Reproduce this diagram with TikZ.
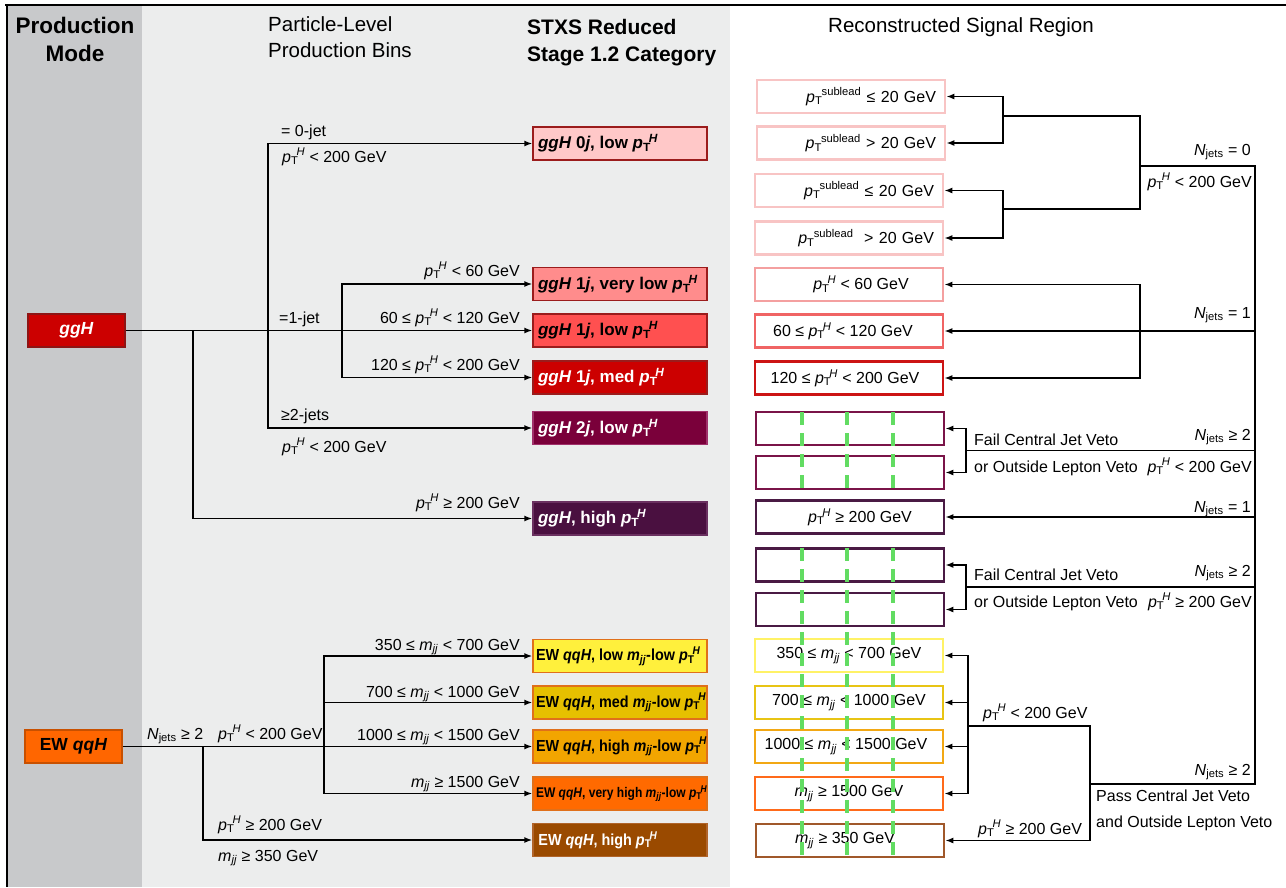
\documentclass[tikz,border=0pt]{standalone}
\usepackage{fontspec}
\setmainfont{Liberation Sans}
\usepackage{graphicx}
\usetikzlibrary{arrows.meta}
\definecolor{panelDark}{HTML}{C8C9CB}
\definecolor{panelLight}{HTML}{ECEDED}
\definecolor{ggHfill}{HTML}{CC0000}
\definecolor{ggHdraw}{HTML}{8E1414}
\definecolor{qqHfill}{HTML}{FF6600}
\definecolor{qqHdraw}{HTML}{C85000}
\definecolor{sA}{HTML}{FFC8C8}
\definecolor{sB}{HTML}{FF8C8C}
\definecolor{sC}{HTML}{FF5050}
\definecolor{sD}{HTML}{CC0000}
\definecolor{sE}{HTML}{7A003A}
\definecolor{sF}{HTML}{4A1040}
\definecolor{sBorder}{HTML}{9B1C1C}
\definecolor{sEBorder}{HTML}{A0306A}
\definecolor{sFBorder}{HTML}{6A3060}
\definecolor{qA}{HTML}{FFF03C}
\definecolor{qB}{HTML}{E6C000}
\definecolor{qC}{HTML}{F2A500}
\definecolor{qD}{HTML}{FF6A00}
\definecolor{qE}{HTML}{9A4A00}
\definecolor{qBorder}{HTML}{E0701A}
\definecolor{qEBorder}{HTML}{B0642A}
\definecolor{rA}{HTML}{F8C4C4}
\definecolor{rB}{HTML}{F4A0A0}
\definecolor{rC}{HTML}{F06464}
\definecolor{rD}{HTML}{CC1414}
\definecolor{rE}{HTML}{7A1448}
\definecolor{rF}{HTML}{4A1A44}
\definecolor{rG}{HTML}{FFF266}
\definecolor{rH}{HTML}{E8C414}
\definecolor{rI}{HTML}{F2A814}
\definecolor{rJ}{HTML}{FF6A1A}
\definecolor{rK}{HTML}{A0582A}
\definecolor{vetoGreen}{HTML}{62DC62}
\newcommand\pTH{\textit{p}\textsubscript{T}\kern-.12em\textsuperscript{\textit{H}}}
\newcommand\pTsl{\textit{p}\textsubscript{T}\kern-.05em\textsuperscript{sublead}}
\newcommand\mjj{\textit{m}\textsubscript{\textit{jj}}}
\newcommand\Njets{\textit{N}\textsubscript{jets}}
\newcommand\stxt[1]{\makebox[164pt][l]{#1}}
\newcommand\ewt[2][0.9]{\makebox[168pt][l]{\scalebox{#1}[1]{#2}}}
\begin{document}
\begin{tikzpicture}[x=1pt,y=-1pt,
  lbl/.style={inner sep=0pt,font=\fontsize{16}{19}\selectfont},
  hdr/.style={inner sep=0pt,font=\fontsize{20.5}{24}\selectfont},
  hdrb/.style={inner sep=0pt,font=\fontsize{21}{25}\selectfont\bfseries},
  prod/.style={draw, line width=1.3pt, minimum width=97pt, minimum height=33pt, inner sep=0pt, font=\fontsize{17.5}{20}\selectfont\bfseries},
  stx/.style={draw, line width=1.3pt, minimum width=174pt, minimum height=33pt, inner xsep=5pt, inner ysep=0pt, font=\fontsize{17}{20}\selectfont\bfseries},
  ewb/.style={stx, inner xsep=3pt, font=\fontsize{16}{19}\selectfont\bfseries},
  rb/.style={draw, fill=white, line width=2.6pt, minimum width=188pt, minimum height=33pt, inner sep=0pt, font=\fontsize{16}{19}\selectfont},
  rbr/.style={rb, text width=170pt, inner xsep=9pt, align=right},
  conn/.style={line width=1.8pt, line cap=rect},
  arr/.style={line width=1.8pt, -{Latex[length=8pt,width=6pt]}},
  greendash/.style={vetoGreen, line width=4pt, dash pattern=on 13pt off 8pt}
]
\useasboundingbox (0,0) rectangle (1286,887);
\fill[white] (0,0) rectangle (1286,887);
\fill[panelDark] (7,5) rectangle (142,887);
\fill[panelLight] (142,5) rectangle (730,887);
\draw[line width=1.2pt] (5,5) -- (1286,5);
\draw[line width=1.2pt] (7,5) -- (7,887);

% headers
\node[hdrb,font=\fontsize{22.5}{26}\selectfont\bfseries,anchor=base] (hA1) at (75,33) {Production};
\node[hdrb,font=\fontsize{22.5}{26}\selectfont\bfseries,anchor=base] (hA2) at (75,61) {Mode};
\node[hdr,anchor=base west] (hB1) at (268,31) {Particle-Level};
\node[hdr,anchor=base west] (hB2) at (268,57) {Production Bins};
\node[hdrb,anchor=base west] (hC1) at (527,34) {STXS Reduced};
\node[hdrb,anchor=base west] (hC2) at (527,61) {Stage 1.2 Category};
\node[hdr,anchor=base] (hD) at (961,32) {Reconstructed Signal Region};

% production modes
\node[prod,fill=ggHfill,draw=ggHdraw,text=white] (ggH) at (76.5,330.5) {\textit{ggH}};
\node[prod,fill=qqHfill,draw=qqHdraw] (qqH) at (73.5,746.5) {EW \textit{qqH}};

% STXS categories
\node[stx,fill=sA,draw=sBorder] (s0) at (620,143.5) {\stxt{\textit{ggH} 0\textit{j}, low \pTH}};
\node[stx,fill=sB,draw=sBorder] (s1) at (620,284) {\stxt{\textit{ggH} 1\textit{j}, very low \pTH}};
\node[stx,fill=sC,draw=sBorder] (s2) at (620,330.5) {\stxt{\textit{ggH} 1\textit{j}, low \pTH}};
\node[stx,fill=sD,draw=sBorder,text=white] (s3) at (620,377.5) {\stxt{\textit{ggH} 1\textit{j}, med \pTH}};
\node[stx,fill=sE,draw=sEBorder,text=white] (s4) at (620,428) {\stxt{\textit{ggH} 2\textit{j}, low \pTH}};
\node[stx,fill=sF,draw=sFBorder,text=white] (s5) at (620,518.5) {\stxt{\textit{ggH}, high \pTH}};
\node[ewb,fill=qA,draw=qBorder] (q1) at (620,656) {\ewt{EW \textit{qqH}, low \mjj-low \pTH}};
\node[ewb,fill=qB,draw=qBorder] (q2) at (620,702.5) {\ewt{EW \textit{qqH}, med \mjj-low \pTH}};
\node[ewb,fill=qC,draw=qBorder] (q3) at (620,746.5) {\ewt{EW \textit{qqH}, high \mjj-low \pTH}};
\node[ewb,fill=qD,draw=qBorder,font=\fontsize{14}{16}\selectfont\bfseries] (q4) at (620,793.5) {\ewt[0.86]{EW \textit{qqH}, very high \mjj-low \pTH}};
\node[ewb,fill=qE,draw=qEBorder,text=white] (q5) at (620,840) {\ewt{\,EW \textit{qqH}, high \pTH}};

% reconstructed signal regions
\node[rbr,draw=rA] (R1) at (851,96.5) {\pTsl{} ≤ 20 GeV};
\node[rbr,draw=rA] (R2) at (851,143) {\pTsl{} > 20 GeV};
\node[rbr,draw=rA] (R3) at (849,190.5) {\pTsl{} ≤ 20 GeV};
\node[rbr,draw=rA] (R4) at (849,238) {\pTsl{} \ > 20 GeV};
\node[rb,draw=rB] (R5) at (849,284.5) {\hspace*{24pt}\pTH{} < 60 GeV};
\node[rb,draw=rC] (R6) at (849,331) {60 ≤ \pTH{} < 120 GeV\hspace*{12pt}};
\node[rb,draw=rD] (R7) at (849,378) {120 ≤ \pTH{} < 200 GeV\hspace*{8pt}};
\node[rb,draw=rE] (R8) at (850,428.5) {};
\node[rb,draw=rE] (R9) at (850,472.5) {};
\node[rb,draw=rF] (R10) at (850,517) {\hspace*{20pt}\pTH{} ≥ 200 GeV};
\node[rb,draw=rF] (R11) at (850,565) {};
\node[rb,draw=rF] (R12) at (850,609.5) {};
\node[rb,draw=rG] (R13) at (849,655.5) {350 ≤ \mjj{} < 700 GeV};
\node[rb,draw=rH] (R14) at (849,702.5) {700 ≤ \mjj{} < 1000 GeV};
\node[rb,draw=rI] (R15) at (849,746.5) {1000 ≤ \mjj{} < 1500 GeV\hspace*{6pt}};
\node[rb,draw=rJ] (R16) at (849,793.5) {\mjj{} ≥ 1500 GeV};
\node[rb,draw=rK] (R17) at (850,840.5) {\mjj{} ≥ 350 GeV\hspace*{10pt}};

% veto dashes
\foreach \gx in {802,847,893}{
  \draw[greendash] (\gx,412) -- (\gx,490);
  \draw[greendash] (\gx,548) -- (\gx,858);
}

% ggH connectors
\coordinate (j1) at (193,330.5);
\coordinate (j2) at (268,330.5);
\coordinate (j3) at (342,330.5);
\draw[arr] (ggH.east) -- (s2.west);
\draw[arr] (j1) |- (s5.west);
\draw[arr] (j2) |- (s0.west);
\draw[arr] (j2) |- (s4.west);
\draw[arr] (j3) |- (s1.west);
\draw[arr] (j3) |- (s3.west);

% qqH connectors
\coordinate (k1) at (203,746.5);
\coordinate (k2) at (324,746.5);
\draw[arr] (qqH.east) -- (q3.west);
\draw[arr] (k1) |- (q5.west);
\draw[arr] (k2) |- (q1.west);
\draw[arr] (k2) |- (q2.west);
\draw[arr] (k2) |- (q4.west);

% ggH / qqH labels
\node[lbl,anchor=base west] (l0a) at (281,136) {= 0-jet};
\node[lbl,anchor=base west] (l0b) at (282,162) {\pTH{} < 200 GeV};
\node[lbl,anchor=base east] (l1a) at (520,276) {\pTH{} < 60 GeV};
\node[lbl,anchor=base west] (l1b) at (279,323) {=1-jet};
\node[lbl,anchor=base east] (l1c) at (520,323) {60 ≤ \pTH{} < 120 GeV};
\node[lbl,anchor=base east] (l1d) at (520,370) {120 ≤ \pTH{} < 200 GeV};
\node[lbl,anchor=base west] (l2a) at (281,420) {≥2-jets};
\node[lbl,anchor=base west] (l2b) at (282,452) {\pTH{} < 200 GeV};
\node[lbl,anchor=base east] (l3) at (520,508) {\pTH{} ≥ 200 GeV};
\node[lbl,anchor=base west] (lq0) at (147,739) {\Njets{} ≥ 2};
\node[lbl,anchor=base west] (lq1) at (218,739) {\pTH{} < 200 GeV};
\node[lbl,anchor=base east] (lq2) at (520,650) {350 ≤ \mjj{} < 700 GeV};
\node[lbl,anchor=base east] (lq3) at (520,697) {700 ≤ \mjj{} < 1000 GeV};
\node[lbl,anchor=base east] (lq4) at (520,740) {1000 ≤ \mjj{} < 1500 GeV};
\node[lbl,anchor=base east] (lq5) at (520,787) {\mjj{} ≥ 1500 GeV};
\node[lbl,anchor=base west] (lq6) at (218,830) {\pTH{} ≥ 200 GeV};
\node[lbl,anchor=base west] (lq7) at (218,861) {\mjj{} ≥ 350 GeV};

% right-hand tree
\coordinate (t0) at (1255,166);
\coordinate (tb) at (1255,784);
\draw[conn] (t0) -- (tb);
\coordinate (b0) at (1140,166);
\coordinate (b0u) at (1140,116);
\coordinate (b0d) at (1140,209);
\coordinate (a1) at (1003,116);
\coordinate (a2) at (1003,209);
\draw[conn] (t0) -- (b0);
\draw[conn] (a1) -- (b0u) -- (b0d) -- (a2);
\draw[arr] (a1) |- (R1.east);
\draw[arr] (a1) |- (R2.east);
\draw[arr] (a2) |- (R3.east);
\draw[arr] (a2) |- (R4.east);

\coordinate (n1) at (1255,331);
\coordinate (c1) at (1140,331);
\draw[arr] (n1) -- (R6.east);
\draw[arr] (c1) |- (R5.east);
\draw[arr] (c1) |- (R7.east);

\coordinate (f1) at (1255,450.5);
\coordinate (f1v) at (966,450.5);
\draw[conn] (f1) -- (f1v);
\draw[arr] (f1v) |- (R8.east);
\draw[arr] (f1v) |- (R9.east);

\coordinate (n2) at (1255,517);
\draw[arr] (n2) -- (R10.east);

\coordinate (f2) at (1255,587);
\coordinate (f2v) at (966,587);
\draw[conn] (f2) -- (f2v);
\draw[arr] (f2v) |- (R11.east);
\draw[arr] (f2v) |- (R12.east);

\coordinate (p1) at (1090,784);
\coordinate (p2) at (1090,726);
\coordinate (p4) at (968,726);
\draw[conn] (tb) -- (p1);
\draw[arr] (p4) -- (p2) |- (R17.east);
\draw[arr] (p4) |- (R13.east);
\draw[arr] (p4) |- (R14.east);
\draw[arr] (p4) |- (R15.east);
\draw[arr] (p4) |- (R16.east);

% right labels
\node[lbl,anchor=base east] (r0a) at (1251,155) {\Njets{} = 0};
\node[lbl,anchor=base east] (r0b) at (1252,187) {\pTH{} < 200 GeV};
\node[lbl,anchor=base east] (r1) at (1251,318) {\Njets{} = 1};
\node[lbl,anchor=base west] (rf1) at (974,445) {Fail Central Jet Veto};
\node[lbl,anchor=base west] (rf2) at (974,472) {or Outside Lepton Veto};
\node[lbl,anchor=base east] (r2a) at (1251,440) {\Njets{} ≥ 2};
\node[lbl,anchor=base east] (r2b) at (1252,472) {\pTH{} < 200 GeV};
\node[lbl,anchor=base east] (r3) at (1251,512) {\Njets{} = 1};
\node[lbl,anchor=base west] (rf3) at (974,580) {Fail Central Jet Veto};
\node[lbl,anchor=base west] (rf4) at (974,607) {or Outside Lepton Veto};
\node[lbl,anchor=base east] (r4a) at (1251,576) {\Njets{} ≥ 2};
\node[lbl,anchor=base east] (r4b) at (1252,607) {\pTH{} ≥ 200 GeV};
\node[lbl,anchor=base west] (rp1) at (983,718) {\pTH{} < 200 GeV};
\node[lbl,anchor=base west] (rp2) at (978,834) {\pTH{} ≥ 200 GeV};
\node[lbl,anchor=base east] (r5) at (1251,775) {\Njets{} ≥ 2};
\node[lbl,anchor=base west] (rp3) at (1096,801) {Pass Central Jet Veto};
\node[lbl,anchor=base west] (rp4) at (1096,827) {and Outside Lepton Veto};
\end{tikzpicture}
\end{document}
